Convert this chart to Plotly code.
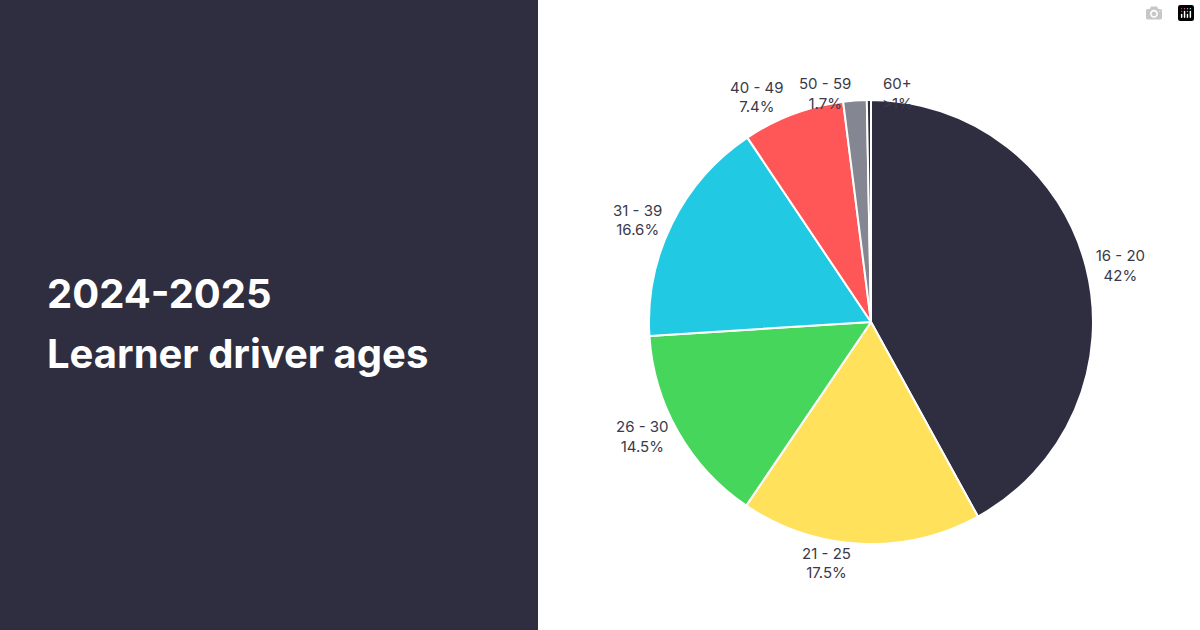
import plotly.graph_objects as go

# learner driver age groups, 2024-2025
age_groups = ["16 - 20", "21 - 25", "26 - 30", "31 - 39", "40 - 49", "50 - 59", "60+"]
shares = [42, 17.5, 14.5, 16.6, 7.4, 1.7, 0.3]
share_labels = ["42%", "17.5%", "14.5%", "16.6%", "7.4%", "1.7%", ">1%"]
colors = ["#2e2e40", "#ffe15c", "#47d65c", "#22c9e3", "#ff5757", "#848791", "#2e2e40"]

W, H = 1200, 630
label_font = dict(family="Inter", size=15, color="#3a3a4a")

# the two thin slices get hand-placed labels (no leader lines, as in the original)
positions = ["outside"] * 5 + ["none", "none"]
small_label_px = {5: (853, 72), 6: (915, 72)}

fig = go.Figure(go.Pie(
    labels=age_groups,
    values=shares,
    text=share_labels,
    texttemplate="%{label}<br>%{text}",
    textposition=positions,
    textfont=label_font,
    marker=dict(colors=colors, line=dict(color="white", width=2)),
    sort=False,
    direction="clockwise",
    rotation=0,
    showlegend=False,
    domain=dict(x=[(871 - 222) / W, (871 + 222) / W], y=[1 - (322 + 222) / H, 1 - (322 - 222) / H]),
))

annotations = [
    dict(text="<b>2024-2025</b>", x=45 / W, y=1 - 293 / H, xref="paper", yref="paper",
         xanchor="left", yanchor="middle", showarrow=False,
         font=dict(family="Inter", size=40, color="white")),
    dict(text="<b>Learner driver ages</b>", x=45 / W, y=1 - 353 / H, xref="paper", yref="paper",
         xanchor="left", yanchor="middle", showarrow=False,
         font=dict(family="Inter", size=40, color="white")),
]
for i, (px_x, px_y) in small_label_px.items():
    annotations.append(dict(text=f"{age_groups[i]}<br>{share_labels[i]}", x=px_x / W, y=1 - px_y / H,
                            xref="paper", yref="paper", showarrow=False, font=label_font))

fig.update_layout(
    width=W, height=H,
    margin=dict(l=0, r=0, t=0, b=0),
    paper_bgcolor="white",
    shapes=[dict(type="rect", xref="paper", yref="paper", x0=0, x1=538 / W, y0=0, y1=1,
                 fillcolor="#2e2e40", line=dict(width=0), layer="below")],
    annotations=annotations,
)

fig.write_html("out.html", post_script="document.body.style.margin='0';")
